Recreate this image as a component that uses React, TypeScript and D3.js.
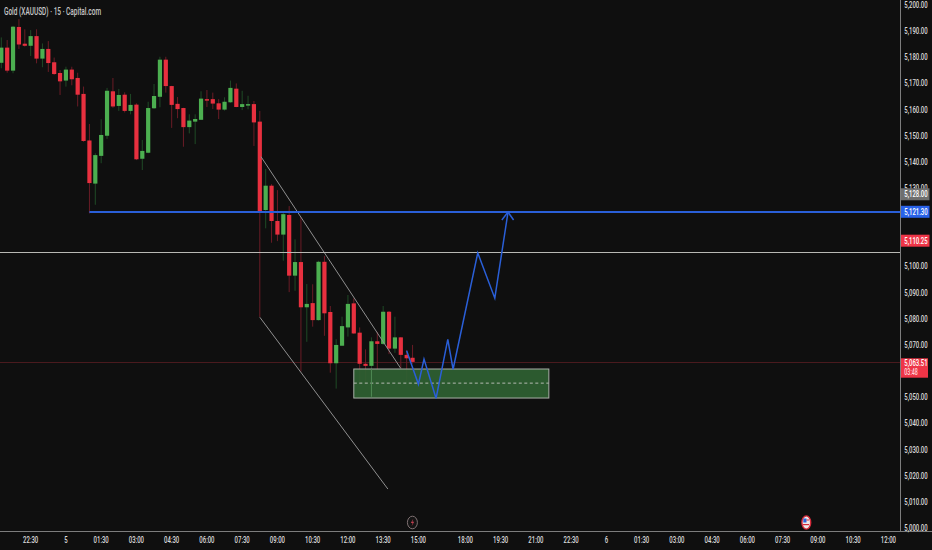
import React from "react";
import * as d3 from "d3";

const W = 932, H = 550, AX = 900, AY = 531;

const opens = [5177.9,5183.7,5174.9,5191.6,5185.2,5184.4,5188.1,5179.5,5183.2,5178.1,5174,5171.1,5175.3,5172.1,5166,5148.2,5131.7,5142.3,5150,5167,5161.4,5165.7,5159.5,5161.9,5141.2,5143.5,5160.5,5164.9,5179.1,5169,5162.2,5160.6,5153.3,5155.4,5156.1,5164,5164,5162.4,5160,5162.8,5168,5161,5161.8,5162.1,5155.4,5121.6,5130.9,5117.4,5112.2,5119.7,5096.5,5101.7,5084.4,5086,5079.5,5101.8,5082.6,5063,5069.7,5076.7,5085.9,5074.7,5062.8,5062,5071.4,5070.4,5082.7,5068.6,5072.9,5066.2,5065.1];
const highs = [5187.6,5186.6,5192,5194.6,5190.7,5190.4,5190.7,5185.3,5186.2,5179.9,5175.1,5176.4,5176.4,5174.1,5168.8,5154.5,5143.3,5156.3,5168.3,5172.1,5167.9,5166.6,5166,5162.4,5148.4,5163,5169.8,5180.2,5180.2,5169.1,5164.8,5160.7,5158.2,5158.2,5167,5167.5,5166.5,5164,5164.7,5171.1,5170,5167.2,5165.3,5163.3,5159.5,5137.3,5131.5,5129.2,5120.5,5123.1,5110.4,5119,5093.3,5093.2,5102.2,5104,5084.9,5072.2,5080.8,5089.1,5087.8,5076.7,5068.3,5072.9,5075,5084.9,5083,5080.8,5073,5068.1,5070];
const lows = [5175.8,5174.1,5173.9,5183.2,5184.1,5180.5,5177.7,5176.2,5174.4,5173.3,5165.6,5168.8,5169.3,5161.2,5147.7,5120.3,5123.6,5139.5,5148.8,5160.7,5159.5,5158.9,5158.2,5140.7,5136.9,5143.3,5160.3,5160.9,5166.5,5153,5156.7,5145.8,5150.9,5146.8,5156,5161,5160.2,5156.4,5159.6,5162.6,5160.9,5159.8,5160.1,5146.1,5080.7,5114.6,5109.1,5109.7,5102.2,5090.2,5090.7,5059.8,5071.2,5077,5079.3,5073.5,5059.4,5053.3,5069.7,5073.2,5074.2,5054.7,5055.4,5050.2,5060.4,5070,5066.5,5067,5061.1,5055.6,5062.8];
const closes = [5183.7,5174.9,5191.7,5184.9,5184.4,5188.1,5179.5,5183.2,5177.8,5173.6,5170.8,5175.3,5171.6,5165.7,5148,5131.9,5142.6,5150.3,5167.2,5161.2,5165.6,5159.5,5161.8,5141,5144.2,5160.6,5165.2,5179.1,5169,5161.8,5160.2,5153.3,5155.8,5156.4,5164.2,5163.7,5162.3,5160,5163,5168.3,5161,5162.1,5162.1,5155.1,5121.2,5130.9,5117.4,5112.2,5120,5096.5,5101.7,5084.4,5085.7,5079.5,5101.8,5082.1,5063,5070,5077.2,5085.7,5074.4,5062.8,5062,5071.4,5070.4,5082.7,5068.6,5072.9,5066.2,5064.9,5063.51];

const priceTicks = [5200,5190,5180,5170,5160,5150,5140,5130,5100,5090,5080,5070,5050,5040,5030,5020,5010,5000];
const timeIdx = [5,11,17,23,29,35,41,47,53,59,65,71,79,85,91,97,103,109,115,121,127,133,139,145,151];
const timeLabels = ["22:30","5","01:30","03:00","04:30","06:00","07:30","09:00","10:30","12:00","13:30","15:00","18:00","19:30","21:00","22:30","6","01:30","03:00","04:30","06:00","07:30","09:00","10:30","12:00"];

const blueLevel = 5121.3, whiteLevel = 5105.5, lastPrice = 5063.51, blueStart = 15;
const channelTop: [number, number][] = [[44.2,5142],[68,5061]];
const channelBottom: [number, number][] = [[44,5080.6],[65.8,5014.9]];
const projection: [number, number][] = [[69,5067.8],[71,5055],[71.95,5064.6],[74,5049.6],[76,5072.1],[76.9,5060.7],[81.1,5105.2],[84,5087.9],[86.25,5120.8]];
const arrowHead: [number, number][] = [[85.2,5117.8],[86.25,5120.8],[87.2,5117.8]];
const boxI = [60,93.2], boxP = [5060.8,5049.7], boxMid = 5055.4;
const labels = [
  { p: 5128, t: "5,128.00", c: "#6f6f6f" },
  { p: 5121.3, t: "5,121.30", c: "#2962e8" },
  { p: 5110.25, t: "5,110.25", c: "#ee3547" },
];

const x = d3.scaleLinear().domain([0, 100]).range([1.3, 588.8]);
const y = d3.scaleLinear().domain([5200, 5000]).range([5, 528]);
const ln = d3.line<[number, number]>().x(d => x(d[0])).y(d => y(d[1]));
const fmt = d3.format(",.2f");
const AF = "Roboto, sans-serif";
const blue = "#2a5fd8";
const snap = (v: number) => Math.round(v) + 0.5;

function Squeezed({ tx, ty, sx, anchor, fill, size, children }: any) {
  return (
    <text transform={`translate(${tx},${ty}) scale(${sx ?? 0.63},1)`} textAnchor={anchor || "start"} fill={fill} fontSize={size || 9.5} fontFamily={AF} fontWeight={500} dominantBaseline="central">
      {children}
    </text>
  );
}

export default function App() {
  return (
    <svg width={W} height={H} style={{ position: "fixed", left: 0, top: 0, background: "#0f0f0f" }}>
      <rect width={W} height={H} fill="#0f0f0f" />
      <line x1={0} x2={AX} y1={snap(y(lastPrice))} y2={snap(y(lastPrice))} stroke="#4a1a1e" strokeWidth={1} />
      {opens.map((o, i) => {
        const c = closes[i], up = c >= o;
        const cx = x(i), top = y(Math.max(o, c)), bot = y(Math.min(o, c));
        return (
          <g key={i}>
            <line x1={cx} x2={cx} y1={y(highs[i])} y2={y(lows[i])} stroke={up ? "#1f4a26" : "#6a1c26"} strokeWidth={1} />
            <rect x={cx - 2.1} width={4.2} y={top} height={Math.max(bot - top, 1.5)} fill={up ? "#4caf50" : "#e8303f"} />
          </g>
        );
      })}
      <rect x={x(boxI[0])} width={x(boxI[1]) - x(boxI[0])} y={y(boxP[0])} height={y(boxP[1]) - y(boxP[0])} fill="#2e5f31" fillOpacity={0.95} stroke="#a9b0a8" strokeWidth={1} />
      <line x1={x(boxI[0])} x2={x(boxI[1])} y1={y(boxMid)} y2={y(boxMid)} stroke="#b4bbb2" strokeWidth={1} strokeDasharray="3 2.5" />
      <line x1={x(63)} x2={x(63)} y1={y(boxP[0])} y2={y(lows[63])} stroke="#4f8a55" strokeWidth={1} />
      <path d={ln(channelTop)!} stroke="#8f8f8f" fill="none" strokeWidth={1} />
      <path d={ln(channelBottom)!} stroke="#8f8f8f" fill="none" strokeWidth={1} />
      <line x1={0} x2={AX} y1={snap(y(whiteLevel))} y2={snap(y(whiteLevel))} stroke="#b8b8b4" strokeWidth={1} />
      <line x1={x(blueStart)} x2={AX} y1={y(blueLevel) + 1.2} y2={y(blueLevel) + 1.2} stroke={blue} strokeWidth={1.8} />
      <path d={ln(projection)!} stroke={blue} fill="none" strokeWidth={1.5} />
      <path d={ln(arrowHead)!} stroke={blue} fill="none" strokeWidth={1.5} />

      <rect x={AX} y={0} width={W - AX} height={H} fill="#0f0f0f" />
      <rect x={0} y={AY} width={W} height={H - AY} fill="#0f0f0f" />
      <line x1={AX + 0.5} x2={AX + 0.5} y1={0} y2={AY} stroke="#7d7d7d" strokeWidth={1} />
      <line x1={0} x2={W} y1={AY + 0.5} y2={AY + 0.5} stroke="#7d7d7d" strokeWidth={1} />

      {priceTicks.map(p => (
        <Squeezed key={p} tx={904.3} ty={y(p)} fill="#dcdcdc">{fmt(p)}</Squeezed>
      ))}
      {timeIdx.map((t, i) => (
        <Squeezed key={t} tx={x(t)} ty={540} anchor="middle" fill="#dcdcdc">{timeLabels[i]}</Squeezed>
      ))}
      {labels.map(l => (
        <g key={l.p}>
          <rect x={AX + 1} y={y(l.p) - 5} width={28.5} height={12} fill={l.c} />
          <Squeezed tx={904.3} ty={y(l.p) + 1} fill="#ffffff">{l.t}</Squeezed>
        </g>
      ))}
      <rect x={AX + 1} y={358.3} width={27} height={19.4} fill="#ee3547" />
      <Squeezed tx={904.3} ty={362.7} fill="#ffffff">5,063.51</Squeezed>
      <Squeezed tx={904.3} ty={371.7} fill="#ffd5d8" size={8.5}>03:48</Squeezed>

      <Squeezed tx={4} ty={11} sx={0.62} fill="#c8c8c8" size={10.5}>Gold (XAUUSD) · 15 · Capital.com</Squeezed>

      <g>
        <ellipse cx={412.4} cy={522.5} rx={5} ry={6.3} fill="#141414" stroke="#8a7a7c" strokeWidth={0.9} />
        <path d="M413.3 518.8 L410.8 523 L412.6 523 L411.6 526.2 L414.2 521.8 L412.4 521.8 Z" fill="#c04050" />
      </g>
      <g>
        <ellipse cx={806.3} cy={522.5} rx={4.4} ry={6.6} fill="#f0e8e8" stroke="#d42a3a" strokeWidth={1.4} />
        <rect x={803.3} y={518.5} width={3.2} height={4} fill="#2a62d8" />
        <rect x={806.5} y={519.5} width={2.5} height={1} fill="#d42a3a" />
        <rect x={803} y={524} width={6} height={1.2} fill="#d42a3a" />
      </g>
    </svg>
  );
}
